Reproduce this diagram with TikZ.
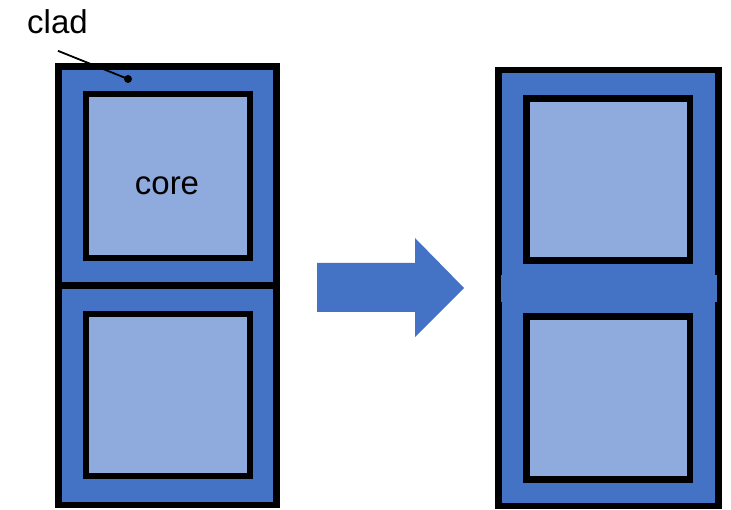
\documentclass[tikz,border=0pt]{standalone}
\usepackage{fontspec}
\setmainfont{Liberation Sans}
\definecolor{cladblue}{HTML}{4472C4}
\definecolor{coreblue}{HTML}{8FAADC}
\begin{document}
\begin{tikzpicture}[
        x=1pt, y=-1pt,
        font=\fontsize{33}{40}\selectfont,
        cell/.style = {
            draw=black, line width=6.5pt, fill=cladblue,
            inner sep=0pt, outer sep=0pt,
            minimum width=218pt, minimum height=#1
        },
        core/.style = {
            draw=black, line width=6.5pt, fill=coreblue,
            inner sep=0pt, outer sep=0pt,
            minimum width=164pt, minimum height=#1
        }
    ]
        \useasboundingbox (0,0) rectangle (731,510);

        % before: two separate fibres
        \node[cell=219pt] (L1) at (167.5,176) {};
        \node[cell=219.5pt] (L2) at (167.5,395.25) {};
        \node[core=164pt] (LC1) at (168,176) {};
        \node[core=162pt] (LC2) at (168,395) {};
        \node[anchor=base] (corelbl) at (167,195) {core};

        % label
        \node[anchor=base] (cladlbl) at (57.5,33.5) {clad};
        \coordinate (cladpt) at (128,79);
        \draw[line width=1.8pt] (cladlbl.south) ++(0.5,13.5) -- (cladpt);
        \fill (cladpt) circle (4pt);

        % arrow
        \fill[cladblue] (317,263) -- (415,263) -- (415,238) -- (464,288)
            -- (415,337) -- (415,312) -- (317,312) -- cycle;

        % after: fused fibre
        \node[cell=436pt, minimum width=220pt] (R) at (608.5,288) {};
        \fill[cladblue] (500.5,275) rectangle (716.5,302);
        \node[core=162pt, minimum width=163.5pt] (RC1) at (608.25,179.5) {};
        \node[core=163pt, minimum width=163.5pt] (RC2) at (608.25,398) {};
    \end{tikzpicture}
\end{document}
